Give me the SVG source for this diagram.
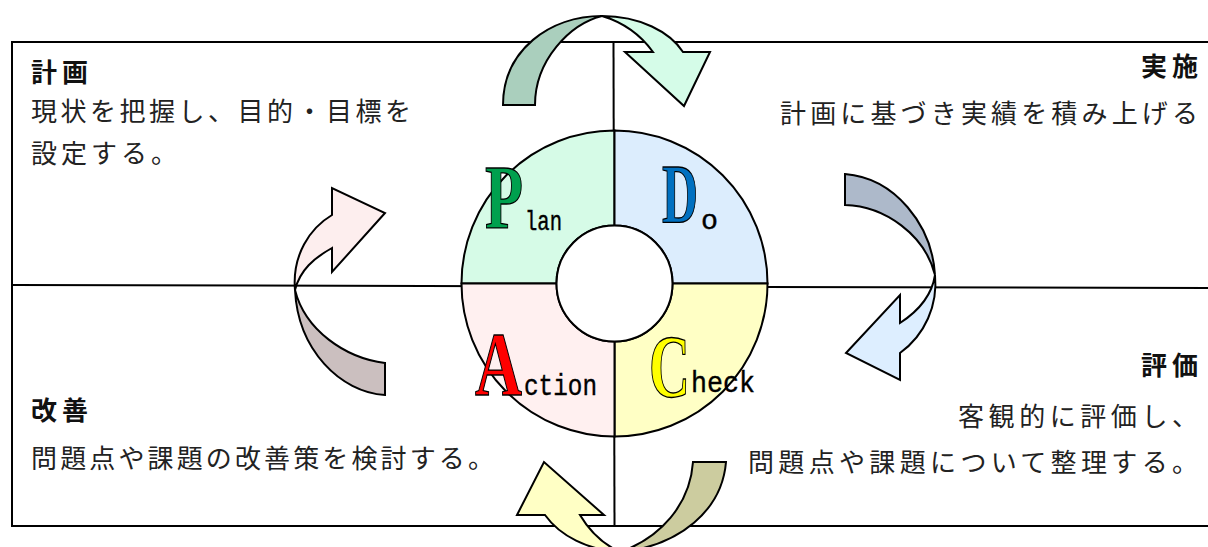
<svg xmlns="http://www.w3.org/2000/svg" width="1208" height="547" viewBox="0 0 1208 547">
<style>
.frame{fill:none;stroke:#000;stroke-width:2}
.ln{stroke:#000;stroke-width:2;fill:none}
.q{stroke:#000;stroke-width:2}
.arr{stroke:#000;stroke-width:2;stroke-linejoin:miter}
.head{font-family:"Noto Sans CJK JP",sans-serif;font-size:26px;font-weight:700;fill:#111}
.body{font-family:"Noto Sans CJK JP",sans-serif;font-size:26px;font-weight:400;fill:#222}
.big{font-family:"Liberation Serif",serif;font-weight:700;stroke:#000;stroke-width:1.3}
.small{font-family:"Liberation Mono",monospace;font-weight:400;fill:#000;stroke:#000;stroke-width:0.4}
</style>
<rect width="1208" height="547" fill="#fff"/>
<g id="frame">
<rect class="frame" x="12" y="42" width="1210" height="484"/>
<line class="ln" x1="12" y1="285" x2="1208" y2="288"/>
<line class="ln" x1="613.5" y1="42" x2="614.5" y2="526"/>
</g>
<g id="plan">
<path class="q" fill="#d6fbe7" d="M614.5,130.5 A153,153 0 0 0 461.5,283.5 L556.5,283.5 A58,58 0 0 1 614.5,225.5 Z"/>
<text class="big" x="485" y="228" font-size="90" fill="#00a04e" textLength="38" lengthAdjust="spacingAndGlyphs">P</text>
<text class="small" x="525" y="230" font-size="27" textLength="37" lengthAdjust="spacingAndGlyphs">lan</text>
</g>
<g id="do">
<path class="q" fill="#dcedfd" d="M614.5,130.5 A153,153 0 0 1 767.5,283.5 L672.5,283.5 A58,58 0 0 0 614.5,225.5 Z"/>
<text class="big" x="662" y="223" font-size="85" fill="#0070c0" textLength="36" lengthAdjust="spacingAndGlyphs">D</text>
<text class="small" x="701" y="229" font-size="27" textLength="17" lengthAdjust="spacingAndGlyphs">o</text>
</g>
<g id="check">
<path class="q" fill="#ffffc5" d="M767.5,283.5 A153,153 0 0 1 614.5,436.5 L614.5,341.5 A58,58 0 0 0 672.5,283.5 Z"/>
<text class="big" x="649" y="396" font-size="89" fill="#ffff00" textLength="41" lengthAdjust="spacingAndGlyphs">C</text>
<text class="small" x="691" y="392" font-size="30" textLength="64" lengthAdjust="spacingAndGlyphs">heck</text>
</g>
<g id="action">
<path class="q" fill="#fff0f0" d="M614.5,436.5 A153,153 0 0 1 461.5,283.5 L556.5,283.5 A58,58 0 0 0 614.5,341.5 Z"/>
<text class="big" x="475" y="395" font-size="90" fill="#ff0000" textLength="47" lengthAdjust="spacingAndGlyphs">A</text>
<text class="small" x="524" y="395" font-size="30" textLength="73" lengthAdjust="spacingAndGlyphs">ction</text>
</g>
<g id="center">
<circle cx="614.5" cy="283.5" r="58" fill="#fff" stroke="#000" stroke-width="2"/>
</g>
<g id="connectors">
<g id="arrow-plan-do">
<path class="arr" fill="#aacfbd" d="M503,105 C503,50 550,16 602,16 C570,24 535,60 535,105 Z"/>
<path class="arr" fill="#d5fce8" d="M602,16 C640,16 670,32 683,52 L710,52 L684,106 L625,52 L653,52 C640,34 622,22 602,16 Z"/>
</g>
<g id="arrow-do-check">
<path class="arr" fill="#adb9ca" d="M845,174 C895,178 932,225 935,275 C925,235 885,206 845,205 Z"/>
<path class="arr" fill="#ddeeff" d="M935,275 C938,305 925,335 900,353 L900,380 L846,353 L900,295 L900,323 C920,310 932,295 935,275 Z"/>
</g>
<g id="arrow-check-action">
<path class="arr" fill="#cccc9f" d="M620,552 C680,546 722,510 726,462 L693,462 C690,505 660,538 620,552 Z"/>
<path class="arr" fill="#ffffc5" d="M517,515 L544,462 L604,515 L580,515 C590,532 605,545 620,552 C588,550 560,536 545,515 Z"/>
</g>
<g id="arrow-action-plan">
<path class="arr" fill="#cbbfbf" d="M295,290 C298,350 340,392 385,395 L385,363 C345,358 305,330 295,290 Z"/>
<path class="arr" fill="#fdeeee" d="M295,290 C292,255 310,228 332,215 L332,188 L385,213 L332,272 L332,248 C314,258 300,270 295,290 Z"/>
</g>
</g>
<g id="text-plan">
<text class="head" x="31" y="82" textLength="57">計画</text>
<text class="body" x="31" y="121" textLength="380">現状を把握し、目的・目標を</text>
<text class="body" x="31" y="163" textLength="146">設定する。</text>
</g>
<g id="text-do">
<text class="head" x="1198" y="76" text-anchor="end" textLength="57">実施</text>
<text class="body" x="1198" y="123" text-anchor="end" textLength="418">計画に基づき実績を積み上げる</text>
</g>
<g id="text-check">
<text class="head" x="1198" y="375" text-anchor="end" textLength="57">評価</text>
<text class="body" x="1198" y="426" text-anchor="end" textLength="240">客観的に評価し、</text>
<text class="body" x="1198" y="472" text-anchor="end" textLength="450">問題点や課題について整理する。</text>
</g>
<g id="text-action">
<text class="head" x="31" y="420" textLength="57">改善</text>
<text class="body" x="31" y="468" textLength="463">問題点や課題の改善策を検討する。</text>
</g>
</svg>
